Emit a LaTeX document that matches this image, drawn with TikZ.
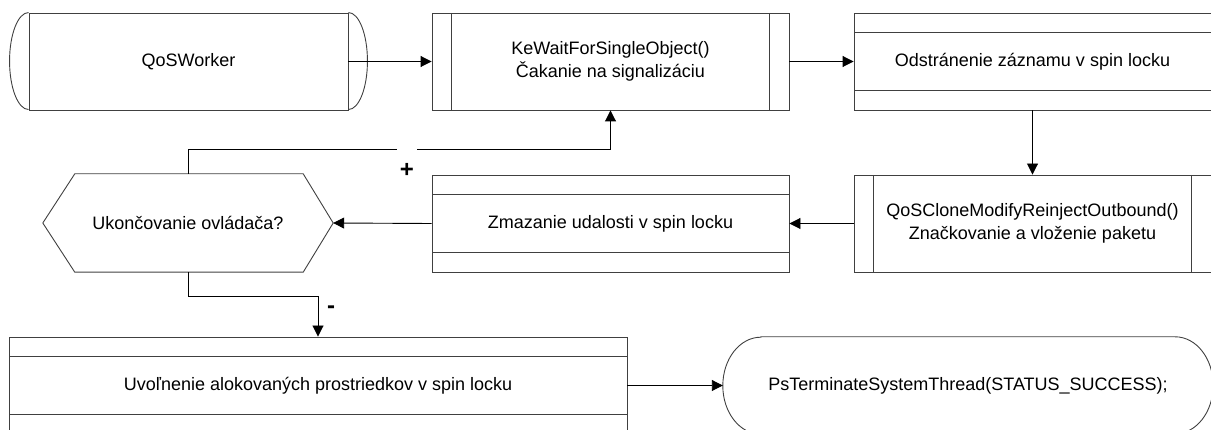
\documentclass[tikz,border=0pt]{standalone}
\usepackage{fontspec}
\setmainfont{Liberation Sans}
\usetikzlibrary{arrows.meta}

\begin{document}
\begin{tikzpicture}[x=1pt, y=1pt,
	every node/.style={font=\fontsize{18}{23}\selectfont, align=center},
	line/.style={draw=black!75, line width=0.9pt},
	shapebox/.style={line, minimum height=97, inner sep=0},
	procbox/.style={shapebox, minimum width=357, path picture={
		\draw[line] ([xshift=19.5]path picture bounding box.north west) -- ([xshift=19.5]path picture bounding box.south west);
		\draw[line] ([xshift=-19.5]path picture bounding box.north east) -- ([xshift=-19.5]path picture bounding box.south east);}},
	bandbox/.style={shapebox, path picture={
		\draw[line] ([yshift=-19.5]path picture bounding box.north west) -- ([yshift=-19.5]path picture bounding box.north east);
		\draw[line] ([yshift=19.5]path picture bounding box.south west) -- ([yshift=19.5]path picture bounding box.south east);}},
	flow/.style={line width=0.9pt, -{Triangle[length=11pt,width=11pt]}},
	sign/.style={fill=white, inner sep=0, anchor=base, font=\fontsize{24}{24}\selectfont\bfseries}]
	%%%%% START %%%%%
	\useasboundingbox (0,0) rectangle (1211,-430);
	
	% top row
	\node[shapebox, draw, minimum width=319] (worker) at (188.5,-61.5) {QoSWorker};
	\draw[line] (worker.north west) arc[start angle=90, end angle=270, x radius=19, y radius=48.5];
	\draw[line] (worker.north east) arc[start angle=90, end angle=-90, x radius=19, y radius=48.5];
	
	\node[procbox, draw] (wait) at (610.5,-61.5) {KeWaitForSingleObject()\\Čakanie na signalizáciu};
	\node[bandbox, draw, minimum width=357] (remove) at (1032.5,-61.5) {Odstránenie záznamu v spin locku};
	
	% middle row
	\node[procbox, draw] (clone) at (1032.5,-223.5) {QoSCloneModifyReinjectOutbound()\\Značkovanie a vloženie paketu};
	\node[bandbox, draw, minimum width=357] (erase) at (610.5,-223.5) {Zmazanie udalosti v spin locku};
	
	\node[minimum width=290, minimum height=98, inner sep=0] (decide) at (188,-223) {Ukončovanie ovládača?};
	\draw[line] (decide.west) -- ([xshift=32]decide.north west) -- ([xshift=-30]decide.north east)
		-- (decide.east) -- ([xshift=-30]decide.south east) -- ([xshift=32]decide.south west) -- cycle;
	
	% bottom row
	\node[bandbox, draw, minimum width=618] (release) at (318,-385.5) {Uvoľnenie alokovaných prostriedkov v spin locku};
	
	\node[minimum width=490, minimum height=97, inner sep=0] (term) at (968,-385.5) {PsTerminateSystemThread(STATUS\_SUCCESS);};
	\draw[line] ([xshift=38]term.north west) -- ([xshift=-38]term.north east)
		arc[start angle=90, end angle=-90, x radius=38, y radius=48.5]
		-- ([xshift=38]term.south west)
		arc[start angle=270, end angle=90, x radius=38, y radius=48.5] -- cycle;
	
	% connectors
	\draw[flow] (worker.east) -- (wait.west);
	\draw[flow] (wait.east) -- (remove.west);
	\draw[flow] (remove.south) -- (clone.north);
	\draw[flow] (clone.west) -- (erase.east);
	\draw[flow] (erase.west) -- (decide.east);
	\draw[flow] (decide.north) -- ++(0,24) -| (wait.south);
	\draw[flow] (decide.south) -- ++(0,-24) -| (release.north);
	\draw[flow] (release.east) -- (term.west);
	
	\node[sign, minimum width=20, text height=29, text depth=2] (yes) at (407,-177.4) {+};
	\node[sign] (no) at (331,-314) {-};
	
	%%%%% END %%%%%
\end{tikzpicture}
\end{document}
